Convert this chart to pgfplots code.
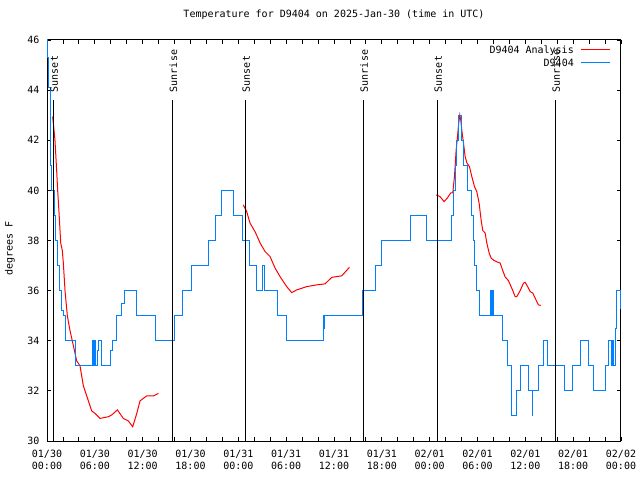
\documentclass[border=0pt]{standalone}
\usepackage{pgfplots}
\pgfplotsset{compat=1.18}
\usepackage{fontspec}
\setmainfont{DejaVu Sans Mono}
\definecolor{obsblue}{RGB}{0,128,255}
\definecolor{anared}{RGB}{255,0,0}
\begin{document}
\begin{tikzpicture}[font=\fontsize{10bp}{12bp}\selectfont]
\useasboundingbox (0,0) rectangle (640bp,480bp);
\begin{axis}[
  at={(47bp,39bp)}, anchor=south west,
  scale only axis, width=574bp, height=401bp,
  xmin=0, xmax=72, ymin=30, ymax=46,
  axis line style={line width=1bp},
  every tick/.style={black, line width=0.8bp},
  major tick length=4bp, minor tick length=4bp,
  xtick={0,6,...,72},
  minor x tick num=2,
  ytick={30,32,...,46},
  xticklabels={{01/30\\00:00},{01/30\\06:00},{01/30\\12:00},{01/30\\18:00},{01/31\\00:00},{01/31\\06:00},{01/31\\12:00},{01/31\\18:00},{02/01\\00:00},{02/01\\06:00},{02/01\\12:00},{02/01\\18:00},{02/02\\00:00}},
  xticklabel style={align=center, inner sep=0pt, anchor=north, yshift=-9bp, font=\fontsize{10bp}{12bp}\selectfont},
  yticklabel style={inner sep=0pt, anchor=east, xshift=-7.5bp},
  /pgf/number format/assume math mode=true,
  title={Temperature for D9404 on 2025-Jan-30 (time in UTC)},
  title style={at={(0.5,1)}, anchor=base, yshift=16.5bp, inner sep=0pt},
  ylabel={degrees F},
  ylabel style={at={(axis description cs:-0.0645,0.481)}, anchor=center, rotate=0, inner sep=0pt},
]
% Analysis (red)
\addplot[anared, line width=1bp] coordinates {
(0.71,42.94) (0.85,42.5) (1.00,42.0) (1.21,40.8) (1.34,40.0) (1.51,39.1)
(1.72,37.9) (1.92,37.6) (2.05,37.1) (2.26,36.0) (2.55,35.0) (2.89,34.4)
(3.31,33.8) (3.72,33.2) (4.14,33.0) (4.56,32.2) (4.98,31.8) (5.61,31.2)
(6.03,31.1) (6.65,30.9) (7.70,30.97) (8.12,31.04) (8.83,31.24) (9.58,30.9)
(10.21,30.8) (10.75,30.57) (11.26,31.1) (11.67,31.6) (12.51,31.8) (13.35,31.8)
(13.97,31.9)
};
\addplot[anared, line width=1bp] coordinates {
(24.63,39.42) (25.05,39.15) (25.47,38.69) (26.10,38.35) (26.73,37.9) (27.35,37.56)
(27.98,37.36) (28.61,36.9) (29.23,36.56) (30.07,36.16) (30.70,35.92) (31.33,36.03)
(32.58,36.16) (33.84,36.23) (34.88,36.27) (35.72,36.53) (36.97,36.59) (37.94,36.93)
};
\addplot[anared, line width=1bp] coordinates {
(48.81,39.82) (49.31,39.75) (49.81,39.55) (50.23,39.7) (50.65,39.9) (50.90,39.9)
(51.11,40.55) (51.32,41.6) (51.48,42.1) (51.65,42.7) (51.78,43.0) (51.90,42.8)
(52.07,42.3) (52.24,41.9) (52.45,41.35) (52.66,41.1) (52.99,40.95) (53.29,40.55)
(53.62,40.15) (53.91,39.95) (54.20,39.5) (54.46,38.8) (54.66,38.4) (54.96,38.3)
(55.17,37.9) (55.46,37.5) (55.71,37.3) (56.00,37.22) (56.42,37.15) (56.84,37.1)
(57.17,36.8) (57.46,36.55) (57.88,36.4) (58.43,36.0) (58.72,35.76) (58.93,35.76)
(59.35,36.0) (59.77,36.3) (59.98,36.33) (60.19,36.22) (60.61,35.96) (60.94,35.9)
(61.23,35.7) (61.65,35.43) (61.94,35.41)
};
% Observations (blue)
\addplot[obsblue, line width=1bp, const plot] coordinates {
(0.00,46) (0.10,45.3) (0.25,44.1) (0.40,42) (0.50,41) (0.59,40) (0.95,39)
(1.10,38) (1.30,37) (1.55,36) (1.84,35.2) (2.13,35) (2.38,34) (3.55,33)
(5.73,34) (5.78,33) (5.88,34) (5.94,33) (6.00,34) (6.05,33) (6.32,33.6)
(6.44,34) (6.82,33) (8.00,33.6) (8.25,34) (8.66,35) (9.40,35.5) (9.71,36)
(11.20,35) (13.55,34) (16.00,35) (17.05,36) (18.10,37) (20.30,38) (21.15,39)
(21.85,40) (23.45,39) (24.50,38) (25.45,37) (26.25,36) (27.06,37) (27.23,36)
(28.86,35) (30.10,34) (34.67,35) (34.72,34.5) (34.76,35) (39.55,36) (41.25,37)
(41.90,38) (45.55,39) (47.60,38) (50.80,39) (51.00,40) (51.20,41) (51.40,42)
(51.60,43) (52.00,42) (52.20,41) (52.70,40) (53.28,39) (53.47,38) (53.65,37)
(53.87,36) (54.20,35) (55.60,36) (55.70,35) (55.90,36) (56.00,35) (57.15,34)
(57.80,33) (58.25,31) (58.85,32) (59.45,33) (60.40,32) (60.85,31) (60.95,32)
(61.60,33) (62.30,34) (62.80,33) (64.90,32) (65.90,33) (66.90,34) (67.90,33)
(68.60,32) (70.00,33) (70.40,34) (70.80,33) (70.95,34) (71.10,33) (71.25,34.5)
(71.45,36) (71.95,35.3) (72.00,35.3)
};
% Sunrise / sunset markers
\addplot[black, line width=1bp] coordinates {(0.79,30) (0.79,43.61)};
\addplot[black, line width=1bp] coordinates {(15.77,30) (15.77,43.61)};
\addplot[black, line width=1bp] coordinates {(24.88,30) (24.88,43.61)};
\addplot[black, line width=1bp] coordinates {(39.69,30) (39.69,43.61)};
\addplot[black, line width=1bp] coordinates {(48.97,30) (48.97,43.61)};
\addplot[black, line width=1bp] coordinates {(63.78,30) (63.78,43.61)};
\node[rotate=90, anchor=base west, inner sep=0pt] at ([xshift=4.5bp,yshift=7.6bp]axis cs:0.79,43.61) {Sunset};
\node[rotate=90, anchor=base west, inner sep=0pt] at ([xshift=4.5bp,yshift=7.6bp]axis cs:15.77,43.61) {Sunrise};
\node[rotate=90, anchor=base west, inner sep=0pt] at ([xshift=4.5bp,yshift=7.6bp]axis cs:24.88,43.61) {Sunset};
\node[rotate=90, anchor=base west, inner sep=0pt] at ([xshift=4.5bp,yshift=7.6bp]axis cs:39.69,43.61) {Sunrise};
\node[rotate=90, anchor=base west, inner sep=0pt] at ([xshift=4.5bp,yshift=7.6bp]axis cs:48.97,43.61) {Sunset};
\node[rotate=90, anchor=base west, inner sep=0pt] at ([xshift=4.5bp,yshift=7.6bp]axis cs:63.78,43.61) {Sunrise};
% Legend
\node[anchor=base east, inner sep=0pt] at (axis description cs:0.9181,0.9661) {D9404 Analysis};
\node[anchor=base east, inner sep=0pt] at (axis description cs:0.9181,0.9344) {D9404};
\draw[anared, line width=1bp] (axis description cs:0.9303,0.9751) -- (axis description cs:0.9808,0.9751);
\draw[obsblue, line width=1bp] (axis description cs:0.9303,0.9434) -- (axis description cs:0.9808,0.9434);
\end{axis}
\end{tikzpicture}
\end{document}
